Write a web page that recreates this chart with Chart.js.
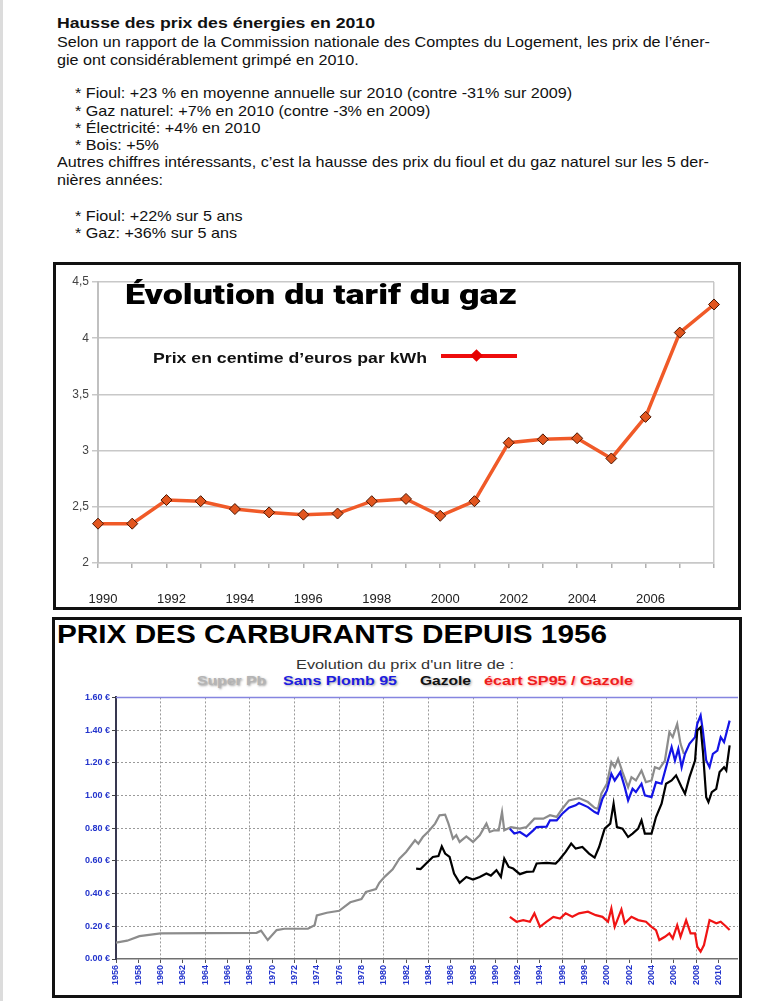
<!DOCTYPE html>
<html><head><meta charset="utf-8">
<script src="https://cdn.jsdelivr.net/npm/chart.js@4.4.1/dist/chart.umd.min.js"></script>
<style>
html,body{margin:0;padding:0;background:#fff;}
body{width:770px;height:1001px;position:relative;overflow:hidden;font-family:"Liberation Sans",Arial,sans-serif;color:#111;}
.t{position:absolute;white-space:nowrap;transform-origin:0 50%;display:inline-block;}
.p{font-size:15px;line-height:18px;}
.frame{position:absolute;border:3px solid #111;box-sizing:border-box;background:#fff;}
canvas{position:absolute;}
</style></head><body>
<div style="position:absolute;left:0;top:0;width:3px;height:1001px;background:#dcdcdc"></div>

<div class="t p" data-w="318" style="left:57px;top:14px;font-weight:bold">Hausse des prix des énergies en 2010</div>
<div class="t p" id="ref" data-w="653" style="left:57px;top:33px">Selon un rapport de la Commission nationale des Comptes du Logement, les prix de l’éner-</div>
<div class="t p ps" style="left:57px;top:51px">gie ont considérablement grimpé en 2010.</div>
<div class="t p ps" style="left:75px;top:84px">* Fioul: +23 % en moyenne annuelle sur 2010 (contre -31% sur 2009)</div>
<div class="t p ps" style="left:75px;top:102px">* Gaz naturel: +7% en 2010 (contre -3% en 2009)</div>
<div class="t p ps" style="left:75px;top:119px">* Électricité: +4% en 2010</div>
<div class="t p ps" style="left:75px;top:136px">* Bois: +5%</div>
<div class="t p" data-w="652" style="left:57px;top:153px">Autres chiffres intéressants, c’est la hausse des prix du fioul et du gaz naturel sur les 5 der-</div>
<div class="t p ps" style="left:57px;top:171px">nières années:</div>
<div class="t p ps" style="left:75px;top:207px">* Fioul: +22% sur 5 ans</div>
<div class="t p ps" style="left:75px;top:224px">* Gaz: +36% sur 5 ans</div>

<div class="frame" style="left:53px;top:262px;width:688px;height:348px"></div>
<canvas id="gas" width="682" height="342" style="left:56px;top:265px"></canvas>
<div class="t" data-w="392" style="left:125px;top:279px;font-size:27px;line-height:32px;font-weight:900;font-family:'Arial Black','Roboto','Inter','Lato',sans-serif;color:#000">Évolution du tarif du gaz</div>
<div class="t" data-w="274" style="left:153px;top:348px;font-size:15px;line-height:20px;font-weight:bold;color:#111">Prix en centime d’euros par kWh</div>
<div style="position:absolute;left:441px;top:354px;width:76px;height:4px;background:#ee0c0c"></div>
<div style="position:absolute;left:472px;top:351px;width:9px;height:9px;background:#e60000;transform:rotate(45deg)"></div>

<div class="frame" style="left:52px;top:617px;width:690px;height:381px"></div>
<div class="t" data-w="550" style="left:57px;top:619px;font-size:26px;line-height:30px;font-weight:bold;color:#000">PRIX DES CARBURANTS DEPUIS 1956</div>
<div class="t" data-w="218" style="left:296px;top:657px;font-size:13px;line-height:16px;color:#333">Evolution du prix d'un litre de :</div>
<div class="t" data-w="69" style="left:197px;top:673px;font-size:13px;line-height:16px;font-weight:bold;color:#b4b4b4;text-shadow:1px 1px 2px #999">Super Pb</div>
<div class="t" data-w="114" style="left:283px;top:673px;font-size:13px;line-height:16px;font-weight:bold;color:#1c1ce0;text-shadow:1px 1px 2px #aaa">Sans Plomb 95</div>
<div class="t" data-w="51" style="left:420px;top:673px;font-size:13px;line-height:16px;font-weight:bold;color:#111;text-shadow:1px 1px 2px #aaa">Gazole</div>
<div class="t" data-w="149" style="left:484px;top:673px;font-size:13px;line-height:16px;font-weight:bold;color:#ee1c1c;text-shadow:1px 1px 2px #f99">écart SP95 / Gazole</div>
<canvas id="fuel" width="683" height="305" style="left:55px;top:690px"></canvas>

<script>
// ---------- Gas tariff chart data ----------
const gasYears = ['1990','1991','1992','1993','1994','1995','1996','1997','1998','1999','2000','2001','2002','2003','2004','2005','2006','2007','2008'];
const gasPrices = [2.35, 2.35, 2.56, 2.55, 2.48, 2.45, 2.43, 2.44, 2.55, 2.57, 2.42, 2.55, 3.07, 3.10, 3.11, 2.93, 3.30, 4.05, 4.30];
const gasTicks = [2, 2.5, 3, 3.5, 4, 4.5];

// ---------- Fuel price chart data ----------
const superPbYears = [1956,1957,1958.1,1960,1968.6,1969,1969.6,1970.4,1971.1,1973.2,1973.8,1974.0,1974.9,1976.0,1977.0,1978.0,1978.4,1979.3,1979.6,1980.1,1980.8,1981.4,1982.0,1982.8,1983.1,1983.5,1984.0,1984.6,1985.0,1985.5,1985.8,1986.2,1986.5,1986.8,1987.4,1988.0,1988.6,1989.2,1989.5,1989.9,1990.3,1990.6,1990.8,1991.4,1992.2,1992.8,1993.5,1994.3,1994.9,1995.5,1996.0,1996.6,1997.5,1998.3,1998.9,1999.2,1999.5,2000.0,2000.4,2000.7,2001.0,2001.4,2001.9,2002.2,2002.6,2003.1,2003.5,2004.0,2004.3,2004.7,2005.2,2005.6,2005.9,2006.3,2006.6,2006.9];
const superPbPrices = [0.10,0.112,0.14,0.157,0.16,0.173,0.116,0.177,0.185,0.185,0.207,0.266,0.283,0.295,0.347,0.367,0.41,0.428,0.466,0.504,0.548,0.614,0.655,0.726,0.705,0.746,0.78,0.828,0.879,0.883,0.828,0.736,0.757,0.716,0.75,0.716,0.757,0.828,0.777,0.787,0.787,0.899,0.787,0.807,0.797,0.807,0.858,0.858,0.879,0.869,0.919,0.97,0.984,0.96,0.925,0.919,1.011,1.072,1.204,1.173,1.224,1.143,1.051,1.112,1.092,1.153,1.082,1.092,1.173,1.163,1.214,1.387,1.357,1.438,1.316,1.255];

const sp95Years = [1991.3,1991.7,1992.2,1992.8,1993.4,1993.7,1994.6,1994.9,1995.5,1996.0,1996.6,1997.2,1997.5,1998.3,1998.9,1999.2,1999.6,2000.0,2000.4,2000.7,2001.2,2001.6,2001.9,2002.3,2002.6,2003.1,2003.4,2004.0,2004.4,2004.9,2005.3,2005.8,2006.1,2006.4,2006.7,2007.0,2007.4,2007.9,2008.1,2008.4,2008.6,2008.9,2009.2,2009.5,2009.9,2010.2,2010.5,2011.0];
const sp95Prices = [0.797,0.767,0.777,0.75,0.787,0.807,0.81,0.848,0.848,0.889,0.925,0.94,0.954,0.929,0.899,0.889,0.98,1.031,1.133,1.092,1.143,1.051,0.97,1.041,1.021,1.072,1.001,0.99,1.082,1.072,1.173,1.296,1.214,1.285,1.173,1.255,1.316,1.357,1.438,1.489,1.397,1.214,1.173,1.255,1.275,1.357,1.326,1.458];

const gazoleYears = [1982.9,1983.3,1983.8,1984.4,1984.9,1985.2,1985.5,1985.9,1986.3,1986.8,1987.4,1988.0,1988.6,1989.2,1989.6,1990.1,1990.5,1990.8,1991.2,1991.6,1992.2,1992.8,1993.4,1993.7,1994.6,1995.4,1995.7,1996.3,1996.8,1997.2,1997.8,1998.4,1998.9,1999.3,1999.8,2000.3,2000.6,2000.9,2001.4,2001.9,2002.3,2002.8,2003.1,2003.4,2004.0,2004.4,2004.9,2005.3,2005.8,2006.2,2006.7,2007.0,2007.4,2007.9,2008.1,2008.4,2008.6,2008.9,2009.1,2009.4,2009.8,2010.1,2010.5,2010.7,2011.0];
const gazolePrices = [0.553,0.55,0.584,0.624,0.63,0.689,0.645,0.624,0.523,0.466,0.502,0.486,0.502,0.523,0.51,0.543,0.502,0.614,0.563,0.553,0.519,0.533,0.535,0.584,0.588,0.584,0.604,0.655,0.706,0.675,0.685,0.645,0.62,0.685,0.797,0.828,0.95,0.807,0.797,0.746,0.767,0.797,0.848,0.767,0.767,0.868,0.95,1.072,1.092,1.123,1.051,1.011,1.112,1.214,1.397,1.418,1.275,0.99,0.96,1.021,1.041,1.143,1.173,1.153,1.306];

const ecartYears = [1991.3,1991.9,1992.5,1993.1,1993.5,1994.0,1994.6,1995.2,1995.8,1996.3,1996.9,1997.5,1998.3,1999.0,1999.6,2000.1,2000.4,2000.7,2001.3,2001.6,2002.2,2002.8,2003.5,2004.0,2004.4,2004.7,2005.2,2005.6,2005.9,2006.3,2006.6,2007.1,2007.5,2007.9,2008.1,2008.4,2008.7,2009.2,2009.8,2010.2,2010.7,2011.0];
const ecartPrices = [0.258,0.228,0.238,0.228,0.279,0.197,0.228,0.258,0.248,0.279,0.258,0.279,0.289,0.268,0.258,0.228,0.309,0.197,0.303,0.218,0.258,0.238,0.228,0.197,0.177,0.116,0.136,0.157,0.126,0.207,0.136,0.238,0.157,0.157,0.075,0.045,0.085,0.238,0.218,0.228,0.197,0.177];

const fuelYearTicks = [];
for (let y = 1956; y <= 2010; y += 2) fuelYearTicks.push(y);
const fuelPriceTicks = [0, 0.2, 0.4, 0.6, 0.8, 1.0, 1.2, 1.4, 1.6];

// ---------- fit HTML text widths ----------
const refEl = document.getElementById('ref');
const paraScale = parseFloat(refEl.dataset.w) / refEl.getBoundingClientRect().width;
document.querySelectorAll('[data-w]').forEach(el => {
  const w = el.getBoundingClientRect().width;
  if (w > 0) el.style.transform = 'scaleX(' + (parseFloat(el.dataset.w) / w) + ')';
});
document.querySelectorAll('.ps').forEach(el => {
  el.style.transform = 'scaleX(' + paraScale + ')';
});

const zip = (xs, ys) => xs.map((x, i) => ({x: x, y: ys[i]}));

// ---------- Gas chart ----------
new Chart(document.getElementById('gas'), {
  type: 'line',
  data: {
    labels: gasYears,
    datasets: [{
      label: 'Prix en centime d’euros par kWh',
      data: gasPrices,
      borderColor: '#f05a28',
      borderWidth: 3.5,
      pointStyle: 'rectRot',
      pointRadius: 5.5,
      pointBackgroundColor: '#e2561f',
      pointBorderColor: '#4a1500',
      pointBorderWidth: 1,
      tension: 0
    }]
  },
  options: {
    responsive: false, animation: false, devicePixelRatio: 1,
    layout: {padding: {left: 0, top: 17, right: 2, bottom: 0}},
    plugins: {legend: {display: false}, tooltip: {enabled: false}},
    scales: {
      x: {
        grid: {
          color: c => (c.index === gasYears.length - 1 ? '#c8c8c8' : 'rgba(0,0,0,0)'),
          lineWidth: 1.5, tickColor: '#b0b0b0', tickLength: 5
        },
        border: {color: '#c8c8c8', width: 1.5},
        ticks: {
          autoSkip: false, maxRotation: 0, padding: 24, labelOffset: 5,
          color: '#222', font: {size: 13, family: 'Liberation Sans'},
          callback: (v, i) => (i % 2 === 0 && i < gasYears.length - 1) ? gasYears[i] : ''
        },
        afterFit: s => { s.height = 44; }
      },
      y: {
        min: 2, max: 4.5,
        afterBuildTicks: s => { s.ticks = gasTicks.map(v => ({value: v})); },
        grid: {color: '#c8c8c8', lineWidth: 1.5, tickLength: 6},
        border: {color: '#c0c0c0', width: 2},
        ticks: {padding: 3, color: '#444', font: {size: 12, family: 'Liberation Sans'},
          callback: v => String(v).replace('.', ',')},
        afterFit: s => { s.width = 42; }
      }
    }
  }
});

// ---------- Fuel chart ----------
const topBorder = {
  id: 'topBorder',
  afterDatasetsDraw(chart) {
    const {ctx, chartArea: a} = chart;
    ctx.save();
    ctx.strokeStyle = '#8585e0';
    ctx.lineWidth = 1.5;
    ctx.beginPath();
    ctx.moveTo(a.left, a.top);
    ctx.lineTo(a.right, a.top);
    ctx.stroke();
    ctx.restore();
  }
};

new Chart(document.getElementById('fuel'), {
  type: 'line',
  data: {
    datasets: [
      {label: 'Super Pb', data: zip(superPbYears, superPbPrices), borderColor: '#8c8c8c', order: 3},
      {label: 'Sans Plomb 95', data: zip(sp95Years, sp95Prices), borderColor: '#1414e6', order: 2},
      {label: 'Gazole', data: zip(gazoleYears, gazolePrices), borderColor: '#000000', order: 1},
      {label: 'écart SP95 / Gazole', data: zip(ecartYears, ecartPrices), borderColor: '#f01414', order: 0}
    ]
  },
  options: {
    responsive: false, animation: false, devicePixelRatio: 1,
    elements: {point: {radius: 0}, line: {borderWidth: 2.2, tension: 0}},
    layout: {padding: {left: 0, top: 6.5, right: 0, bottom: 0}},
    plugins: {legend: {display: false}, tooltip: {enabled: false}},
    scales: {
      x: {
        type: 'linear', min: 1956, max: 2011.75,
        afterBuildTicks: s => { s.ticks = fuelYearTicks.map(v => ({value: v})); },
        grid: {
          color: c => (c.tick && (c.tick.value - 1956) % 4 === 0 && c.tick.value !== 1956) ? '#9a9a9a' : 'rgba(0,0,0,0)',
          lineWidth: 1, tickColor: '#555', tickLength: 4
        },
        border: {color: '#707070', width: 1.5, dash: [2, 2]},
        ticks: {
          minRotation: 90, maxRotation: 90, padding: 2, autoSkip: false,
          color: '#2233cc', font: {size: 9, weight: 'bold', family: 'Liberation Sans'},
          callback: v => String(v)
        },
        afterFit: s => { s.height = 36; }
      },
      y: {
        min: 0, max: 1.6,
        afterBuildTicks: s => { s.ticks = fuelPriceTicks.map(v => ({value: v})); },
        grid: {
          color: c => (c.tick && c.tick.value > 0 && c.tick.value < 1.59) ? '#9a9a9a' : 'rgba(0,0,0,0)',
          lineWidth: 1, tickColor: '#444', tickLength: 4
        },
        border: {color: '#383850', width: 2, dash: [2, 2]},
        ticks: {padding: 2, color: '#2233cc', font: {size: 9, weight: 'bold', family: 'Liberation Sans'},
          callback: v => v.toFixed(2) + ' €'},
        afterFit: s => { s.width = 61; }
      }
    }
  },
  plugins: [topBorder]
});
</script>
</body></html>
